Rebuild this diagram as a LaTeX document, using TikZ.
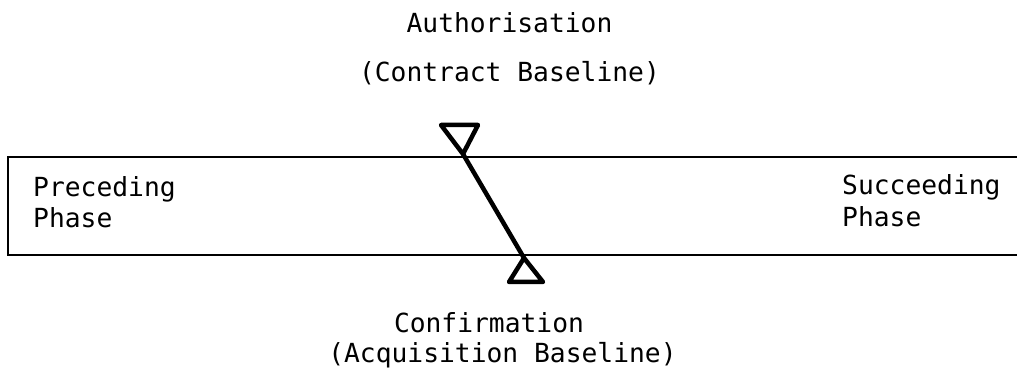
\documentclass[tikz,border=0pt]{standalone}
\usepackage{fontspec}
\setmonofont{DejaVu Sans Mono}
\begin{document}
\begin{tikzpicture}[x=1pt,y=-1pt,
  lbl/.style={inner sep=0pt, font=\ttfamily\fontsize{26.3}{30}\selectfont},
  bandline/.style={line width=1.8pt, black},
  milestone/.style={line width=4.5pt, black, line join=round, line cap=round}]
\useasboundingbox (0,0) rectangle (1017,371);
% phase band (open on the right)
\draw[bandline] (1017,157) -- (8,157) -- (8,255) -- (1017,255);
% milestones
\coordinate (authapex) at (463,154);
\coordinate (confapex) at (524,258);
\draw[milestone] (441,125) -- (478,125) -- (authapex) -- cycle;
\draw[milestone] (509,282) -- (543,282) -- (confapex) -- cycle;
\draw[milestone] (authapex) -- (confapex);
% labels
\node[lbl, anchor=base] (auth) at (509.5,33) {Authorisation};
\node[lbl, anchor=base] (contract) at (509.5,82) {(Contract Baseline)};
\node[lbl, anchor=base] (conf) at (489,332) {Confirmation};
\node[lbl, anchor=base] (acq) at (502.5,362) {(Acquisition Baseline)};
\node[lbl, anchor=base west] (prec) at (33,197) {Preceding};
\node[lbl, anchor=base west] (precph) at (33,228) {Phase};
\node[lbl, anchor=base west] (succ) at (842,195) {Succeeding};
\node[lbl, anchor=base west] (succph) at (842,227) {Phase};
\end{tikzpicture}
\end{document}
